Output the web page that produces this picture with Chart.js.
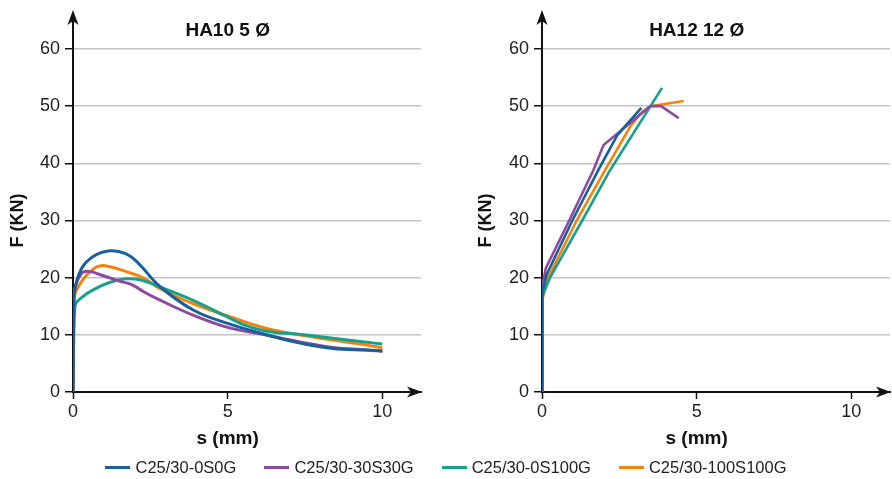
<!DOCTYPE html>
<html>
<head>
<meta charset="utf-8">
<script src="https://cdn.jsdelivr.net/npm/chart.js@4.4.1/dist/chart.umd.min.js"></script>
<style>
  body { margin: 0; background: #fff; }
  #wrap { position: relative; width: 892px; height: 479px; font-family: "Liberation Sans", Arial, sans-serif; }
  #left { position: absolute; left: 0; top: 0; }
  #right { position: absolute; left: 468px; top: 0; }
  #legend { position: absolute; left: 0; top: 458px; width: 892px; display: flex; justify-content: center; font-size: 16.5px; color: #222; }
  .item { display: flex; align-items: center; margin: 0 14px; }
  .swatch { width: 25px; height: 3px; margin-right: 5px; }
</style>
</head>
<body>
<div id="wrap">
  <canvas id="left" width="446" height="460"></canvas>
  <canvas id="right" width="424" height="460"></canvas>
  <div id="legend"></div>
</div>
<script>
const seriesNames = ['C25/30-0S0G', 'C25/30-30S30G', 'C25/30-0S100G', 'C25/30-100S100G']
const seriesColors = ['#18609a', '#8e4aa0', '#17a08c', '#f5820c']
const panelTitles = ['HA10 5 Ø', 'HA12 12 Ø']
const xTicks = [0, 5, 10]
const yTicks = [0, 10, 20, 30, 40, 50, 60]

// HA10 5 Ø  (s in mm, F in kN)
const ha10_s_0S0G = [0, 0.03, 0.25, 0.65, 1.19, 1.7, 2.1, 2.8, 3.9, 5.0, 6.0, 7.3, 8.4, 9.5, 10]
const ha10_f_0S0G = [0, 16.5, 21.3, 23.7, 24.7, 24.2, 22.6, 18.5, 14.3, 12.0, 10.4, 8.6, 7.6, 7.35, 7.2]
const ha10_s_30S30G = [0, 0.03, 0.25, 0.5, 1.0, 1.5, 1.9, 2.3, 2.8, 3.9, 5.0, 6.2, 7.3, 8.4, 9.5, 10]
const ha10_f_30S30G = [0, 17.0, 20.6, 21.1, 20.3, 19.4, 18.8, 17.5, 16.1, 13.4, 11.3, 10.0, 8.8, 7.8, 7.35, 7.1]
const ha10_s_0S100G = [0, 0.06, 0.3, 0.7, 1.2, 1.7, 2.2, 2.8, 3.9, 5.0, 5.6, 6.3, 7.3, 8.4, 9.5, 10]
const ha10_f_0S100G = [0, 15.0, 16.6, 18.0, 19.2, 19.8, 19.6, 18.4, 16.0, 13.1, 11.6, 10.6, 10.1, 9.4, 8.7, 8.4]
const ha10_s_100S100G = [0, 0.03, 0.3, 0.65, 0.9, 1.2, 1.75, 2.3, 2.8, 3.9, 5.0, 6.2, 7.3, 8.4, 9.5, 10]
const ha10_f_100S100G = [0, 16.3, 19.5, 21.5, 22.1, 21.9, 21.0, 19.9, 18.1, 15.4, 13.3, 11.2, 10.0, 9.1, 8.2, 7.75]

// HA12 12 Ø
const ha12_s_0S0G = [0, 0.01, 0.15, 0.98, 1.82, 2.43, 3.21]
const ha12_f_0S0G = [0, 17.5, 20.5, 30, 38.8, 44.9, 49.7]
const ha12_s_30S30G = [0, 0.01, 0.12, 0.88, 1.66, 1.99, 2.75, 3.5, 3.85, 4.42]
const ha12_f_30S30G = [0, 18.4, 21.6, 30, 38.8, 43.2, 46.6, 50, 50, 47.9]
const ha12_s_0S100G = [0, 0.01, 0.26, 1.3, 2.2, 3.88]
const ha12_f_0S100G = [0, 16.8, 20, 30, 38.8, 53.2]
const ha12_s_100S100G = [0, 0.01, 0.2, 1.12, 2.04, 2.85, 3.2, 3.5, 4.58]
const ha12_f_100S100G = [0, 16.1, 20, 30, 38.8, 46.4, 48.8, 50, 50.9]

const toPoints = (s, f) => s.map((v, i) => ({ x: v, y: f[i] }))

function makeDatasets(pairs, smooth) {
    return pairs.map((p, i) => ({
        label: seriesNames[i],
        data: toPoints(p[0], p[1]),
        borderColor: seriesColors[i],
        backgroundColor: seriesColors[i],
        borderWidth: smooth ? 3 : 2.6,
        pointRadius: 0,
        tension: smooth ? 0.4 : 0
    }))
}

const axisExtras = {
    id: 'axisExtras',
    afterDraw(chart, args, opts) {
        const { ctx, chartArea: a, scales: { x } } = chart
        ctx.save()
        ctx.strokeStyle = '#111'
        ctx.fillStyle = '#111'
        ctx.lineWidth = 2
        // y axis up to arrow
        ctx.beginPath()
        ctx.moveTo(a.left, a.top)
        ctx.lineTo(a.left, 20)
        ctx.stroke()
        ctx.beginPath()
        ctx.moveTo(a.left, 10)
        ctx.lineTo(a.left - 5.5, 25)
        ctx.lineTo(a.left, 21)
        ctx.lineTo(a.left + 5.5, 25)
        ctx.closePath()
        ctx.fill()
        // x axis arrow
        const tip = a.right + 1
        ctx.beginPath()
        ctx.moveTo(tip, a.bottom)
        ctx.lineTo(tip - 15, a.bottom - 5.5)
        ctx.lineTo(tip - 11, a.bottom)
        ctx.lineTo(tip - 15, a.bottom + 5.5)
        ctx.closePath()
        ctx.fill()
        // title and x axis title, centred on s = 5
        ctx.textAlign = 'center'
        ctx.textBaseline = 'middle'
        ctx.font = 'bold 19px "Liberation Sans", Arial, sans-serif'
        ctx.fillText(opts.title, x.getPixelForValue(5), 31)
        ctx.fillText('s (mm)', x.getPixelForValue(5), 439)
        ctx.restore()
    }
}

function makeChart(id, title, datasets, yWidth, padRight) {
    return new Chart(document.getElementById(id), {
        type: 'line',
        data: { datasets: datasets },
        plugins: [axisExtras],
        options: {
            responsive: false,
            animation: false,
            layout: { padding: { top: 49, right: padRight, left: 0, bottom: 0 } },
            plugins: {
                legend: { display: false },
                tooltip: { enabled: false },
                axisExtras: { title: title }
            },
            scales: {
                x: {
                    type: 'linear',
                    min: 0,
                    max: 11.25,
                    afterBuildTicks: s => { s.ticks = xTicks.map(v => ({ value: v })) },
                    afterFit: s => { s.height = 68 },
                    grid: { drawOnChartArea: false, drawTicks: true, tickLength: 7, tickColor: '#111', tickWidth: 1.5 },
                    border: { color: '#111', width: 2 },
                    ticks: { color: '#222', font: { size: 18, family: '"Liberation Sans", Arial' }, padding: 2, maxRotation: 0 }
                },
                y: {
                    min: 0,
                    max: 60,
                    afterBuildTicks: s => { s.ticks = yTicks.map(v => ({ value: v })) },
                    afterFit: s => { s.width = yWidth },
                    grid: {
                        color: c => c.tick && c.tick.value === 0 ? 'rgba(0,0,0,0)' : '#c4c4c4',
                        lineWidth: 1.5,
                        tickLength: 8,
                        tickColor: '#111',
                        tickWidth: 1.5
                    },
                    border: { color: '#111', width: 2 },
                    ticks: { color: '#222', font: { size: 18, family: '"Liberation Sans", Arial' }, padding: 5 },
                    title: {
                        display: true,
                        text: 'F (KN)',
                        color: '#111',
                        font: { size: 18, weight: 'bold', family: '"Liberation Sans", Arial' },
                        padding: { top: 7, bottom: 0 }
                    }
                }
            }
        }
    })
}

makeChart('left', panelTitles[0], makeDatasets([
    [ha10_s_0S0G, ha10_f_0S0G],
    [ha10_s_30S30G, ha10_f_30S30G],
    [ha10_s_0S100G, ha10_f_0S100G],
    [ha10_s_100S100G, ha10_f_100S100G]
], true), 73, 25)

makeChart('right', panelTitles[1], makeDatasets([
    [ha12_s_0S0G, ha12_f_0S0G],
    [ha12_s_30S30G, ha12_f_30S30G],
    [ha12_s_0S100G, ha12_f_0S100G],
    [ha12_s_100S100G, ha12_f_100S100G]
], false), 74, 2)

const legend = document.getElementById('legend')
seriesNames.forEach((name, i) => {
    const item = document.createElement('div')
    item.className = 'item'
    const sw = document.createElement('span')
    sw.className = 'swatch'
    sw.style.background = seriesColors[i]
    const label = document.createElement('span')
    label.textContent = name
    item.appendChild(sw)
    item.appendChild(label)
    legend.appendChild(item)
})
</script>
</body>
</html>
